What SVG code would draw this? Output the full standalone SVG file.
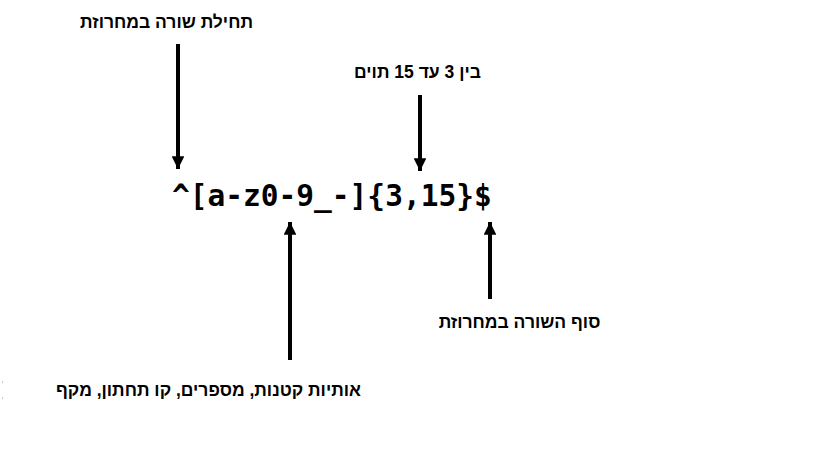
<svg xmlns="http://www.w3.org/2000/svg" width="819" height="460" viewBox="0 0 819 460">
<style>
.lbl{font-family:"Liberation Sans",Arial,sans-serif;font-weight:bold;font-size:17.5px;fill:#000;text-anchor:middle;direction:rtl}
.rx{font-family:"DejaVu Sans Mono",monospace;font-weight:bold;font-size:29.5px;fill:#000}
.ar{stroke:#000;stroke-width:4;fill:none;marker-end:url(#ah)}
</style>
<defs>
<marker id="ah" viewBox="0 0 10 10" refX="10" refY="5" markerWidth="3.2" markerHeight="3.2" orient="auto" markerUnits="strokeWidth">
<path d="M0,0 L10,5 L0,10 z" fill="#000"/>
</marker>
</defs>
<rect width="819" height="460" fill="#fff"/>
<g id="regex"><text class="rx" x="172" y="206">^[a-z0-9_-]{3,15}$</text></g>
<g id="label-start"><text class="lbl" x="166.5" y="28">תחילת שורה במחרוזת</text></g>
<g id="label-range"><text class="lbl" x="417.5" y="78">בין 3 עד 15 תוים</text></g>
<g id="label-end"><text class="lbl" x="519.5" y="328">סוף השורה במחרוזת</text></g>
<g id="label-chars"><text class="lbl" x="208.5" y="396">אותיות קטנות, מספרים, קו תחתון, מקף</text></g>
<g id="connectors">
<line class="ar" x1="178" y1="44" x2="178" y2="169"/>
<line class="ar" x1="420" y1="95" x2="420" y2="171"/>
<line class="ar" x1="290" y1="360" x2="290" y2="222"/>
<line class="ar" x1="490" y1="299" x2="490" y2="222"/>
</g>
<rect x="2" y="381" width="1" height="2" fill="#ccc"/>
<rect x="2" y="397" width="1" height="2" fill="#ccc"/>
</svg>
